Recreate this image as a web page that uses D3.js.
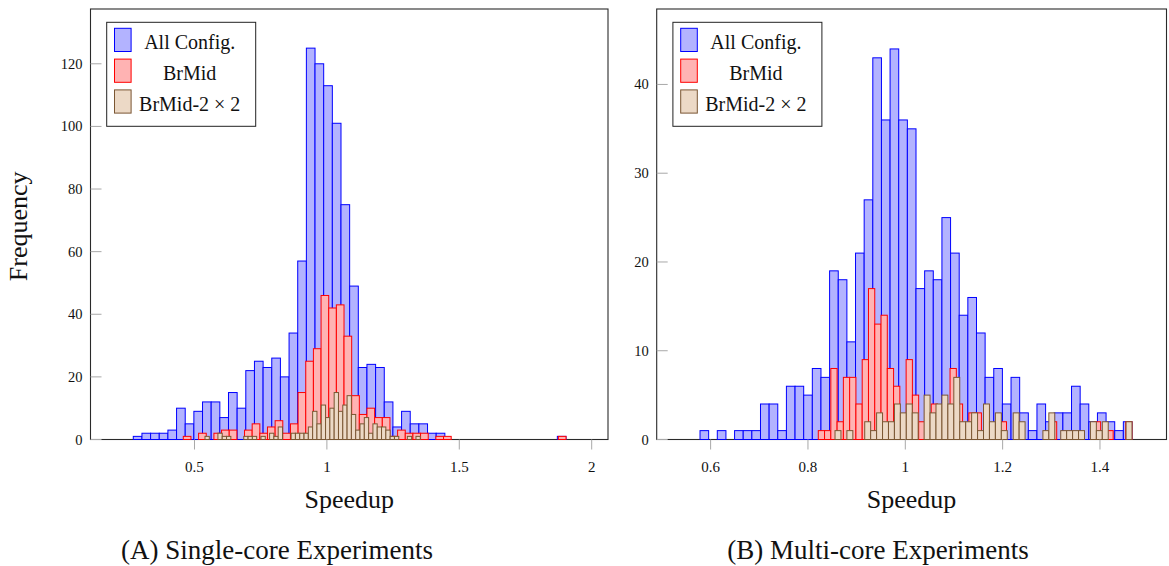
<!DOCTYPE html>
<html>
<head>
<meta charset="utf-8">
<script src="https://cdn.jsdelivr.net/npm/d3@7/dist/d3.min.js"></script>
<style>
	body { margin: 0; background: #fff; }
	svg { display: block; }
	text { font-family: "Liberation Serif", "DejaVu Serif", serif; fill: #111; }
</style>
</head>
<body>
<svg id="figure" width="1169" height="566"></svg>
<script>
/*	Histogram data, single-core (50 bins per series) ----------------------------*/
var singleAllStart = 0.2689, singleAllWidth = 0.032682;
var singleAllCounts = [1,2,2,2,3,10,5,9,12,12,7,15,10,22,25,23,26,20,34,57,
	125,120,113,101,75,49,23,24,23,12,4,9,5,5,2,2,0,0,0,0,
	0,0,0,0,0,0,0,0,0,1];
var singleMidStart = 0.4577, singleMidWidth = 0.028906;
var singleMidCounts = [1,0,2,0,2,3,3,0,3,5,2,4,6,2,5,15,25,29,46,42,
	43,33,14,8,10,7,7,1,3,2,2,2,0,1,1,0,0,0,0,0,
	0,0,0,0,0,0,0,0,0,1];
var singleMid2Start = 0.5397, singleMid2Width = 0.01626;
var singleMid2Counts = [1,0,0,2,1,1,0,0,0,1,1,1,0,1,0,2,1,4,0,0,
	2,2,2,2,4,9,5,11,7,10,15,9,11,14,8,3,5,7,2,5,
	4,4,3,1,1,0,0,1,0,1];

/*	Histogram data, multi-core --------------------------------------------------*/
var multiAllStart = 0.5782, multiAllWidth = 0.017752;
var multiAllCounts = [1,0,1,0,1,1,1,4,4,1,6,6,5,8,7,19,18,11,21,27,
	43,36,44,36,35,17,19,18,25,21,14,16,12,7,8,4,7,3,1,4,
	2,3,3,6,4,2,3,2,1,2];
var multiMidStart = 0.8212, multiMidWidth = 0.012892;
var multiMidCounts = [1,1,8,2,7,7,4,9,17,13,14,8,6,2,9,5,2,3,4,2,
	3,8,4,1,3,3,0,0,0,2,0,0,0,0,0,0,0,2,0,0,
	0,0,0,0,2,0,1,0,0,2];
var multiMid2Start = 0.8556, multiMid2Width = 0.012204;
var multiMid2Counts = [1,0,1,0,0,2,1,3,2,2,4,3,4,3,0,5,3,4,5,4,
	7,2,2,3,1,4,2,3,1,0,3,2,0,0,0,1,3,0,1,1,
	1,1,0,2,1,2,0,0,0,2];

/*	Axis ticks and texts --------------------------------------------------------*/
var singleXTicks = [0.5, 1, 1.5, 2];
var singleYTicks = [0, 20, 40, 60, 80, 100, 120];
var multiXTicks = [0.6, 0.8, 1, 1.2, 1.4];
var multiYTicks = [0, 10, 20, 30, 40];
var legendLabels = ["All Config.", "BrMid", "BrMid-2 \u00d7 2"];
var captions = ["(A) Single-core Experiments", "(B) Multi-core Experiments"];

var seriesStyle = [
	{fill: "#b3b3ff", stroke: "#0000ff"},
	{fill: "#ffb3b3", stroke: "#ff0000"},
	{fill: "#ecd9c6", stroke: "#7a5632"}
];

var svg = d3.select("#figure");

/*	Build one panel with its scales ---------------------------------------------*/
var makePanel = function(box, xDomain, yDomain) {
	var self = {};
	self.box = box;
	self.g = svg.append("g");
	self.xScale = d3.scaleLinear().domain(xDomain).range([box.left, box.right]);
	self.yScale = d3.scaleLinear().domain(yDomain).range([box.bottom, box.top]);
	return self;
}

/*	Frame of the plot area ------------------------------------------------------*/
var addFrame = function(panel) {
	var self = panel;
	self.g.append("rect")
		.attr("x", self.box.left)
		.attr("y", self.box.top)
		.attr("width", self.box.right - self.box.left)
		.attr("height", self.box.bottom - self.box.top)
		.style("fill", "none")
		.style("stroke", "#2a2a2a")
		.style("stroke-width", "1.1");
}

/*	Histogram bars of one series ------------------------------------------------*/
var addBars = function(panel, start, width, counts, style) {
	var self = panel;
	var bins = counts.map(function(c, i) {
		return {x0: start + i * width, x1: start + (i + 1) * width, n: c};
	});
	self.g.append("g").selectAll("rect")
		.data(bins)
		.enter()
		.append("rect")
		.attr("x", function(d) { return self.xScale(d.x0); })
		.attr("y", function(d) { return self.yScale(d.n); })
		.attr("width", function(d) { return self.xScale(d.x1) - self.xScale(d.x0); })
		.attr("height", function(d) { return self.yScale(0) - self.yScale(d.n); })
		.style("fill", style.fill)
		.style("stroke", style.stroke)
		.style("stroke-width", "1");
}

/*	Ticks, tick labels and axis titles ------------------------------------------*/
var addAxis = function(panel, xTicks, yTicks, yTitle, caption, captionX) {
	var self = panel;
	var b = self.box;
	/*	x ticks point outwards below the frame ---------------------------------*/
	self.g.append("g").selectAll("line")
		.data(xTicks)
		.enter()
		.append("line")
		.attr("x1", function(d) { return self.xScale(d); })
		.attr("x2", function(d) { return self.xScale(d); })
		.attr("y1", b.bottom)
		.attr("y2", b.bottom + 10)
		.style("stroke", "#a8a8a8")
		.style("stroke-width", "1");
	self.g.append("g").selectAll("text")
		.data(xTicks)
		.enter()
		.append("text")
		.attr("x", function(d) { return self.xScale(d); })
		.attr("y", b.bottom + 32)
		.attr("text-anchor", "middle")
		.style("font-size", "15px")
		.text(function(d) { return String(d); });
	/*	y ticks point inwards ---------------------------------------------------*/
	self.g.append("g").selectAll("line")
		.data(yTicks)
		.enter()
		.append("line")
		.attr("x1", b.left)
		.attr("x2", b.left + 11)
		.attr("y1", function(d) { return self.yScale(d); })
		.attr("y2", function(d) { return self.yScale(d); })
		.style("stroke", "#a8a8a8")
		.style("stroke-width", "1");
	self.g.append("g").selectAll("text")
		.data(yTicks)
		.enter()
		.append("text")
		.attr("x", b.left - 8)
		.attr("y", function(d) { return self.yScale(d) + 5; })
		.attr("text-anchor", "end")
		.style("font-size", "14.5px")
		.text(function(d) { return String(d); });
	/*	Axis titles --------------------------------------------------------------*/
	self.g.append("text")
		.attr("x", (b.left + b.right) / 2)
		.attr("y", 508)
		.attr("text-anchor", "middle")
		.style("font-size", "26px")
		.text("Speedup");
	if (yTitle) {
		self.g.append("text")
			.attr("text-anchor", "middle")
			.attr("transform", "translate(27," + ((b.top + b.bottom) / 2 + 2) + ")rotate(-90)")
			.style("font-size", "26px")
			.text(yTitle);
	}
	self.g.append("text")
		.attr("x", captionX)
		.attr("y", 559)
		.attr("text-anchor", "middle")
		.style("font-size", "27px")
		.text(caption);
}

/*	Legend box in the upper left corner -----------------------------------------*/
var addLegend = function(panel) {
	var self = panel;
	var lx = self.box.left + 16.2, ly = self.box.top + 13.3;
	var lg = self.g.append("g").attr("transform", "translate(" + lx + "," + ly + ")");
	lg.append("rect")
		.attr("width", 149)
		.attr("height", 104)
		.style("fill", "#fff")
		.style("stroke", "#222")
		.style("stroke-width", "1");
	var rows = lg.selectAll("g.row")
		.data(legendLabels)
		.enter()
		.append("g")
		.attr("class", "row")
		.attr("transform", function(d, i) { return "translate(0," + (6 + i * 30.8) + ")"; });
	rows.append("rect")
		.attr("x", 7.8)
		.attr("width", 16.6)
		.attr("height", 23.2)
		.style("fill", function(d, i) { return seriesStyle[i].fill; })
		.style("stroke", function(d, i) { return seriesStyle[i].stroke; })
		.style("stroke-width", "1");
	rows.append("text")
		.attr("x", 83)
		.attr("y", 21)
		.attr("text-anchor", "middle")
		.style("font-size", "20px")
		.text(function(d) { return d; });
}

/*	Single-core panel -----------------------------------------------------------*/
var single = makePanel({left: 90.5, right: 608, top: 9, bottom: 439.5}, [0.1073, 2.0616], [0, 137.5]);
addFrame(single);
addBars(single, singleAllStart, singleAllWidth, singleAllCounts, seriesStyle[0]);
addBars(single, singleMidStart, singleMidWidth, singleMidCounts, seriesStyle[1]);
addBars(single, singleMid2Start, singleMid2Width, singleMid2Counts, seriesStyle[2]);
addAxis(single, singleXTicks, singleYTicks, "Frequency", captions[0], 277);
addLegend(single);

/*	Multi-core panel ------------------------------------------------------------*/
var multi = makePanel({left: 656.7, right: 1166.5, top: 9, bottom: 439.5}, [0.4892, 1.5367], [0, 48.5]);
addFrame(multi);
addBars(multi, multiAllStart, multiAllWidth, multiAllCounts, seriesStyle[0]);
addBars(multi, multiMidStart, multiMidWidth, multiMidCounts, seriesStyle[1]);
addBars(multi, multiMid2Start, multiMid2Width, multiMid2Counts, seriesStyle[2]);
addAxis(multi, multiXTicks, multiYTicks, null, captions[1], 878);
addLegend(multi);
</script>
</body>
</html>
